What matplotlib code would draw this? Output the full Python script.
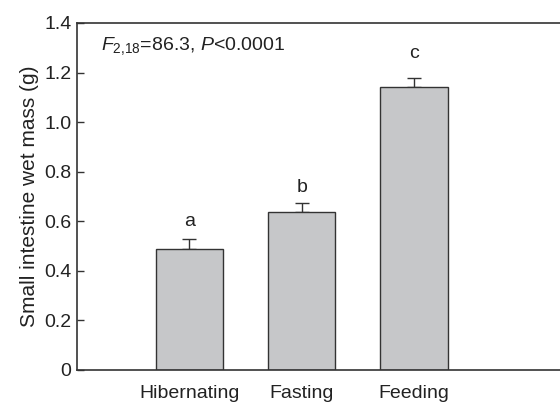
import matplotlib
matplotlib.use("Agg")
import matplotlib.pyplot as plt

groups = ["Hibernating", "Fasting", "Feeding"]
mass = [0.488, 0.637, 1.143]
sem = [0.042, 0.035, 0.034]
letters = ["a", "b", "c"]
letter_y = [0.565, 0.702, 1.242]

plt.rcParams["font.family"] = ["Liberation Sans", "DejaVu Sans"]
plt.rcParams["mathtext.fontset"] = "custom"
plt.rcParams["mathtext.rm"] = "Liberation Sans"
plt.rcParams["mathtext.it"] = "Liberation Sans:italic"

ink = "#222222"
line = "#333333"

fig = plt.figure(figsize=(5.6, 4.04), dpi=100)
ax = fig.add_axes([0.1375, 0.0842, 0.8625, 0.8589])

x = list(range(len(groups)))
ax.bar(x, mass, width=0.6, color="#c6c7c9", edgecolor=line, linewidth=1.0, zorder=2)
ax.errorbar(x, mass, yerr=[[0] * len(sem), sem], fmt="none", ecolor=line,
            elinewidth=1.0, capsize=5, capthick=1.0, zorder=1)

for xi, lab, ly in zip(x, letters, letter_y):
    ax.text(xi, ly, lab, ha="center", va="bottom", fontsize=14, color=ink)

ax.text(0.05, 0.965, r"$F_{\mathrm{2{,}18}}$=86.3, $P$<0.0001", transform=ax.transAxes,
        ha="left", va="top", fontsize=14, color=ink)

ax.set_xlim(-1, 3.3)
ax.set_ylim(0, 1.4)
ax.set_yticks([0, 0.2, 0.4, 0.6, 0.8, 1.0, 1.2, 1.4])
ax.set_yticklabels(["0", "0.2", "0.4", "0.6", "0.8", "1.0", "1.2", "1.4"])
ax.set_xticks(x)
ax.set_xticklabels(groups)
ax.tick_params(axis="y", direction="in", length=5, width=1.0, color=line,
               labelsize=14, labelcolor=ink, pad=4)
ax.tick_params(axis="x", length=0, labelsize=14, labelcolor=ink, pad=11)
ax.set_ylabel("Small intestine wet mass (g)", fontsize=15, color=ink, labelpad=4)

ax.spines["right"].set_visible(False)
for s in ["left", "top", "bottom"]:
    ax.spines[s].set_color(line)
    ax.spines[s].set_linewidth(1.2)

fig.savefig("out.png", dpi=100)
